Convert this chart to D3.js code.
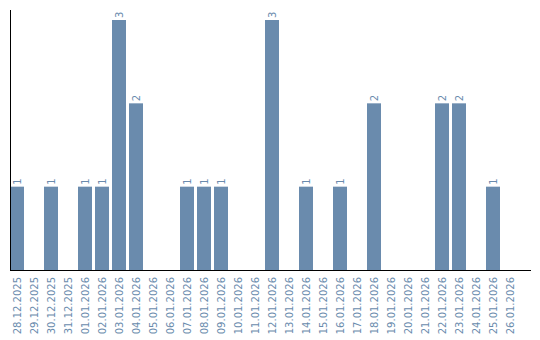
<!DOCTYPE html>
<html>
<head>
<meta charset="utf-8">
<script src="https://cdn.jsdelivr.net/npm/d3@7"></script>
<style>
  body { margin: 0; background: #fff; }
  text { font-family: "DejaVu Sans", sans-serif; font-size: 10px; fill: #6a8bad; }
</style>
</head>
<body>
<svg width="540" height="340"></svg>
<script>
const dates = ["28.12.2025", "29.12.2025", "30.12.2025", "31.12.2025", "01.01.2026",
    "02.01.2026", "03.01.2026", "04.01.2026", "05.01.2026", "06.01.2026",
    "07.01.2026", "08.01.2026", "09.01.2026", "10.01.2026", "11.01.2026",
    "12.01.2026", "13.01.2026", "14.01.2026", "15.01.2026", "16.01.2026",
    "17.01.2026", "18.01.2026", "19.01.2026", "20.01.2026", "21.01.2026",
    "22.01.2026", "23.01.2026", "24.01.2026", "25.01.2026", "26.01.2026"];
const counts = [1, 0, 1, 0, 1, 1, 3, 2, 0, 0, 1, 1, 1, 0, 0, 3, 0, 1, 0, 1, 0, 2, 0, 0, 0, 2, 2, 0, 1, 0];

const svg = d3.select("svg");
const marginLeft = 10, plotRight = 517, plotTop = 20, plotBottom = 270;
const barColor = "#6a8bad";

const x = d3.scaleBand()
    .domain(dates)
    .range([marginLeft, plotRight])
    .paddingInner(3 / 17);

const y = d3.scaleLinear()
    .domain([0, d3.max(counts)])
    .range([plotBottom, plotTop]);

const data = dates.map(function(d, i) { return { date: d, value: counts[i] }; });

// bars
svg.append("g")
    .selectAll("rect")
    .data(data.filter(function(d) { return d.value > 0; }))
    .enter().append("rect")
    .attr("x", function(d) { return x(d.date); })
    .attr("y", function(d) { return y(d.value); })
    .attr("width", x.bandwidth())
    .attr("height", function(d) { return plotBottom - y(d.value); })
    .attr("fill", barColor);

// value labels (rotated)
svg.append("g")
    .selectAll("text")
    .data(data.filter(function(d) { return d.value > 0; }))
    .enter().append("text")
    .attr("transform", function(d) {
        return "translate(" + (x(d.date) + x.bandwidth() / 2 + 3.5) + "," + (y(d.value) - 2) + ") rotate(-90)";
    })
    .attr("text-anchor", "start")
    .text(function(d) { return d.value; });

// date labels
svg.append("g")
    .selectAll("text")
    .data(dates)
    .enter().append("text")
    .attr("transform", function(d) {
        return "translate(" + (x(d) + x.bandwidth() / 2 + 3.5) + "," + (plotBottom + 7) + ") rotate(-90)";
    })
    .attr("text-anchor", "end")
    .text(function(d) { return d; });

// axes lines
svg.append("line")
    .attr("x1", marginLeft).attr("x2", marginLeft)
    .attr("y1", 10).attr("y2", plotBottom)
    .attr("stroke", "#000").attr("stroke-width", 1)
    .attr("shape-rendering", "crispEdges");

svg.append("line")
    .attr("x1", marginLeft).attr("x2", 531)
    .attr("y1", plotBottom).attr("y2", plotBottom)
    .attr("stroke", "#000").attr("stroke-width", 1)
    .attr("shape-rendering", "crispEdges");
</script>
</body>
</html>
